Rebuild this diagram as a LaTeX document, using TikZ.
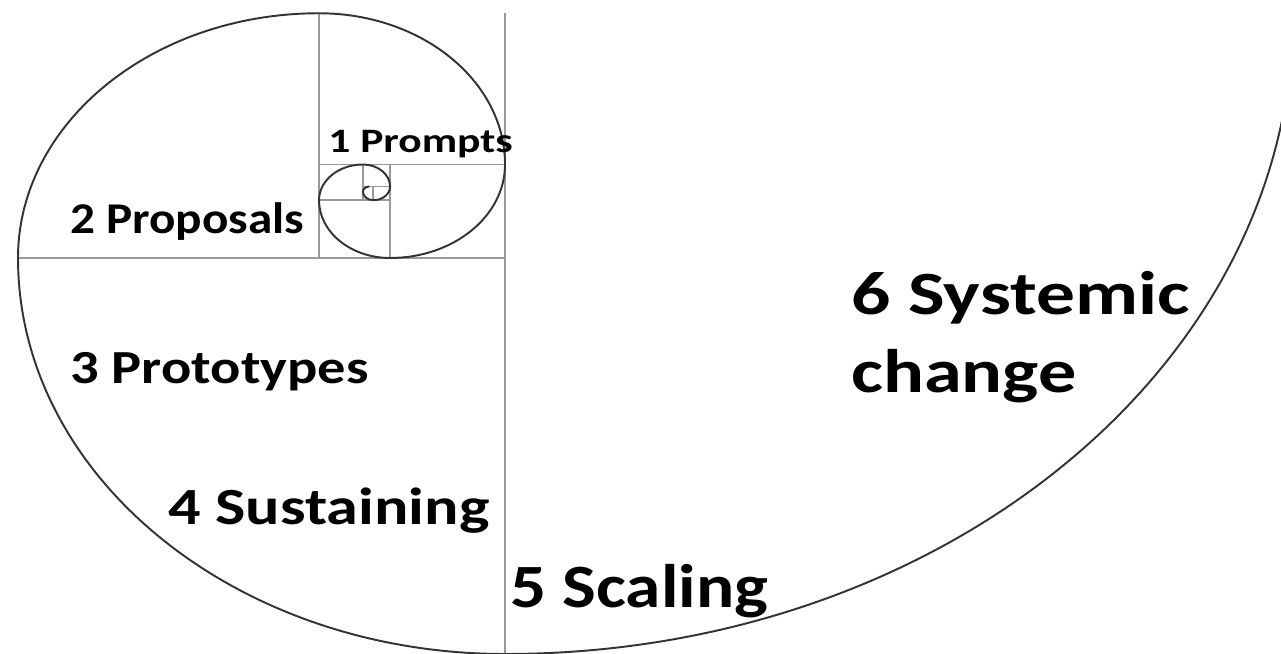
\documentclass[tikz,border=0pt]{standalone}
\usepackage{fontspec}
\setmainfont{Carlito}
\usepackage{graphicx}
\usepackage{tikz}

\tikzset{
    grid line/.style={draw=black!40, line width=1pt},
    spiral/.style={draw=black!80, line width=1.1pt},
    stage/.style={anchor=base west, inner sep=0pt, font=\bfseries\fontsize{#1}{#1}\selectfont}
}

\begin{document}
\begin{tikzpicture}[x=9.74cm, y=7.92cm]
\def \gr{1.618};
\def \picw{1.5934};
\def \pich{1.6515};
\clip (-1.037,0) rectangle (\picw,\pich);
% squares
\foreach \xa/\ya/\xb/\yb in {0/0/0/\gr, -1/1/0/1, -0.382/1/-0.382/\gr,
    -0.382/1.236/0/1.236, -0.236/1/-0.236/1.236, -0.382/1.146/-0.236/1.146,
    -0.2918/1.146/-0.2918/1.236, -0.2918/1.1803/-0.236/1.1803,
    -0.2705/1.146/-0.2705/1.1803} {
    \draw[grid line] (\xa,\ya) -- (\xb,\yb);
}
% spiral
\draw[spiral] (\gr,\gr) \foreach \r/\a in {1.618/0, 1/270, 0.618/180, 0.382/90,
    0.236/0, 0.1459/270, 0.0902/180, 0.0557/90, 0.0344/0, 0.0213/270, 0.0132/180} {
    arc[start angle=\a, delta angle=-90, radius=\r]
};
% stages
\node[stage=19.5] (prompts) at (-0.3634,1.2652) {\scalebox{1.27}[1]{1 Prompts}};
\node[stage=25] (proposals) at (-0.8932,1.0631) {\scalebox{1.12}[1]{2 Proposals}};
\node[stage=27] (prototypes) at (-0.8932,0.6843) {\scalebox{1.19}[1]{3 Prototypes}};
\node[stage=29.7] (sustaining) at (-0.6920,0.3258) {\scalebox{1.23}[1]{4 Sustaining}};
\node[stage=35] (scaling) at (0.0103,0.1162) {\scalebox{1.16}[1]{5 Scaling}};
\node[stage=35] (systemic) at (0.7105,0.8561) {\scalebox{1.26}[1]{6 Systemic}};
\node[stage=35] (change) at (0.7105,0.6591) {\scalebox{1.24}[1]{change}};
\end{tikzpicture}
\end{document}
